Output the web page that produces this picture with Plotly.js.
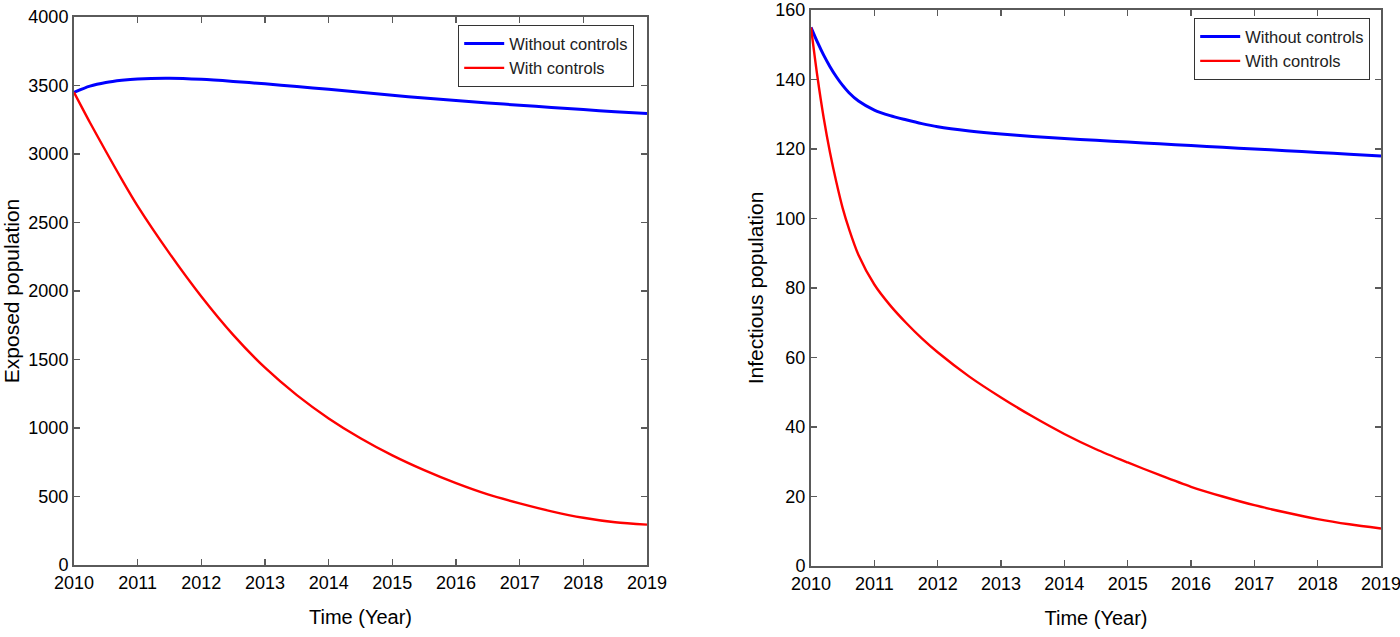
<!DOCTYPE html>
<html>
<head>
<meta charset="utf-8">
<script src="https://cdn.plot.ly/plotly-3.0.1.min.js"></script>
<style>
html,body{margin:0;padding:0;background:#fff;}
#chart{width:1400px;height:637px;}
</style>
</head>
<body>
<div id="chart"></div>
<script>
// ---- Data ----
const seriesNames = ["Without controls", "With controls"];

// Left panel: Exposed population
const exposedYears = [2010, 2010.25, 2010.5, 2010.75, 2011, 2011.5, 2012, 2012.5, 2013, 2013.5, 2014, 2014.5, 2015, 2015.5, 2016, 2016.5, 2017, 2017.5, 2018, 2018.5, 2019];
const exposedWithout = [3450, 3495, 3522, 3538, 3548, 3553, 3545, 3530, 3512, 3492, 3472, 3450, 3428, 3408, 3390, 3373, 3356, 3340, 3324, 3309, 3295];
const exposedWith = [3450, 3230, 3020, 2815, 2620, 2275, 1960, 1680, 1440, 1240, 1070, 925, 800, 692, 597, 515, 450, 392, 345, 312, 295];

// Right panel: Infectious population
const infectYears = [2010, 2010.1, 2010.2, 2010.3, 2010.4, 2010.5, 2010.6, 2010.75, 2011, 2011.25, 2011.5, 2011.75, 2012, 2012.5, 2013, 2013.5, 2014, 2014.5, 2015, 2015.5, 2016, 2016.5, 2017, 2017.5, 2018, 2018.5, 2019];
const infectWithout = [155, 150.8, 147.0, 143.7, 140.8, 138.3, 136.2, 133.8, 131.2, 129.6, 128.4, 127.3, 126.4, 125.2, 124.3, 123.6, 123.0, 122.5, 122.0, 121.5, 121.0, 120.5, 120.0, 119.5, 119.0, 118.5, 118.0];
const infectWith = [155, 141, 129, 119, 110.5, 103, 97, 89.5, 81, 75, 70, 65.5, 61.5, 54.5, 48.5, 43.0, 38.0, 33.6, 29.8, 26.2, 22.8, 20.0, 17.5, 15.4, 13.5, 12.0, 10.8];

const yearTicks = [2010, 2011, 2012, 2013, 2014, 2015, 2016, 2017, 2018, 2019];

// ---- Styling ----
const BLUE = "#0000ff";
const RED = "#ff0000";
const AXIS = "#5a5a5a";
const FONT = "Liberation Sans, Arial, sans-serif";

function line(x, y, name, color, width, xa, ya, lg) {
  return {
    type: "scatter", mode: "lines", x: x, y: y, name: name,
    xaxis: xa, yaxis: ya, legend: lg,
    line: {color: color, width: width, shape: "spline", smoothing: 0.8},
    hoverinfo: "x+y+name"
  };
}

const traces = [
  line(exposedYears, exposedWithout, seriesNames[0], BLUE, 3, "x", "y", "legend"),
  line(exposedYears, exposedWith, seriesNames[1], RED, 2.4, "x", "y", "legend"),
  line(infectYears, infectWithout, seriesNames[0], BLUE, 3, "x2", "y2", "legend2"),
  line(infectYears, infectWith, seriesNames[1], RED, 2.4, "x2", "y2", "legend2")
];

function xAxis(domain, anchor) {
  return {
    domain: domain, anchor: anchor, range: [2010, 2019],
    tickmode: "array", tickvals: yearTicks, ticktext: yearTicks.map(String),
    ticks: "inside", ticklen: 6, tickwidth: 1.5, tickcolor: AXIS,
    showline: true, linecolor: AXIS, linewidth: 2, mirror: "ticks",
    showgrid: false, zeroline: false, ticklabeloverflow: "allow",
    tickfont: {family: FONT, size: 18, color: "#000"},
    title: {text: "Time (Year)", font: {family: FONT, size: 20, color: "#000"}, standoff: 18},
    fixedrange: true
  };
}
function yAxis(domain, anchor, range, dtick, title) {
  return {
    domain: domain, anchor: anchor, range: range,
    tickmode: "linear", tick0: 0, dtick: dtick,
    ticks: "inside", ticklen: 6, tickwidth: 1.5, tickcolor: AXIS,
    showline: true, linecolor: AXIS, linewidth: 2, mirror: "ticks",
    showgrid: false, zeroline: false, ticklabeloverflow: "allow",
    tickfont: {family: FONT, size: 18, color: "#000"},
    title: {text: title, font: {family: FONT, size: 21, color: "#000"}, standoff: 6},
    fixedrange: true
  };
}

const W = 1400, H = 637;
const layout = {
  width: W, height: H,
  margin: {l: 0, r: 0, t: 0, b: 0},
  paper_bgcolor: "#fff", plot_bgcolor: "#fff",
  showlegend: true,
  xaxis: xAxis([74 / W, 647 / W], "y"),
  yaxis: yAxis([1 - 565 / H, 1 - 17 / H], "x", [0, 4000], 500, "Exposed population"),
  xaxis2: xAxis([811 / W, 1381 / W], "y2"),
  yaxis2: yAxis([1 - 566 / H, 1 - 10 / H], "x2", [0, 160], 20, "Infectious population"),
  legend: {
    x: 458 / W, y: 1 - 25 / H, xanchor: "left", yanchor: "top",
    bgcolor: "#fff", bordercolor: "#333", borderwidth: 1.2,
    font: {family: FONT, size: 16.5, color: "#222"}, tracegroupgap: 0,
    itemwidth: 40
  },
  legend2: {
    x: 1194 / W, y: 1 - 18 / H, xanchor: "left", yanchor: "top",
    bgcolor: "#fff", bordercolor: "#333", borderwidth: 1.2,
    font: {family: FONT, size: 16.5, color: "#222"}, tracegroupgap: 0,
    itemwidth: 40
  }
};

Plotly.newPlot("chart", traces, layout, {displayModeBar: false, staticPlot: true});
</script>
</body>
</html>
